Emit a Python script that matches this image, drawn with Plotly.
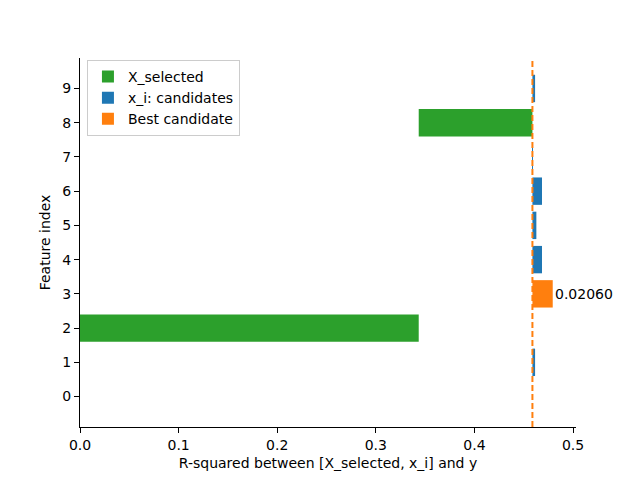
import plotly.graph_objects as go

# Data
selected_features = [2, 8]
selected_r2_gain = [0.3435, 0.1153]
candidate_features = [0, 1, 4, 5, 6, 7, 9]
candidate_gain = [0.0, 0.0027, 0.0097, 0.0040, 0.0097, 0.0005, 0.0027]
best_feature = [3]
best_gain = [0.0206]
best_label = ["0.02060"]
ytick_vals = list(range(10))

# Stacked bases for selected
sel_bases = []
acc = 0.0
for v in selected_r2_gain:
    sel_bases.append(acc)
    acc += v
current_r2 = acc

fig = go.Figure()
fig.add_trace(go.Bar(
    y=selected_features, x=selected_r2_gain, base=sel_bases, orientation="h",
    width=0.8, marker=dict(color="#2ca02c", line=dict(width=0)), name="X_selected"))
fig.add_trace(go.Bar(
    y=candidate_features, x=candidate_gain, base=[current_r2] * len(candidate_features),
    orientation="h", width=0.8, marker=dict(color="#1f77b4", line=dict(width=0)),
    name="x_i: candidates"))
fig.add_trace(go.Bar(
    y=best_feature, x=best_gain, base=[current_r2] * len(best_feature), orientation="h",
    width=0.8, marker=dict(color="#ff7f0e", line=dict(width=0)), name="Best candidate"))

for f, g, lab in zip(best_feature, best_gain, best_label):
    fig.add_annotation(x=current_r2 + g, y=f, text=lab, showarrow=False,
                       xanchor="left", yanchor="middle", xshift=0,
                       font=dict(color="black", size=14))

fig.add_shape(type="line", x0=current_r2, x1=current_r2, y0=0, y1=1, yref="paper", xref="x",
              line=dict(color="#ff7f0e", width=2, dash="6px,3px"))

fig.update_layout(
    width=640, height=480, barmode="overlay",
    paper_bgcolor="white", plot_bgcolor="white",
    margin=dict(l=80, r=64, t=58, b=53),
    font=dict(family="DejaVu Sans", size=14, color="black"),
    showlegend=True,
    legend=dict(x=0.014, y=0.995, xanchor="left", yanchor="top",
                bordercolor="#cccccc", borderwidth=1, bgcolor="rgba(255,255,255,0.8)",
                font=dict(size=14), tracegroupgap=0, itemwidth=30),
    xaxis=dict(range=[0, 0.503], showgrid=False, zeroline=False,
               showline=True, linecolor="black", linewidth=1.1,
               ticks="outside", ticklen=5, tickwidth=1.1, tickcolor="black",
               tickvals=[0, 0.1, 0.2, 0.3, 0.4, 0.5], ticktext=["0.0", "0.1", "0.2", "0.3", "0.4", "0.5"],
               title=dict(text="R-squared between [X_selected, x_i] and y", standoff=6, font=dict(size=14))),
    yaxis=dict(range=[-0.89, 9.89], showgrid=False, zeroline=False,
               showline=True, linecolor="black", linewidth=1.1,
               ticks="outside", ticklen=5, tickwidth=1.1, tickcolor="black",
               tickvals=ytick_vals,
               title=dict(text="Feature index", standoff=8, font=dict(size=14))),
)

fig.write_html("out.html")
